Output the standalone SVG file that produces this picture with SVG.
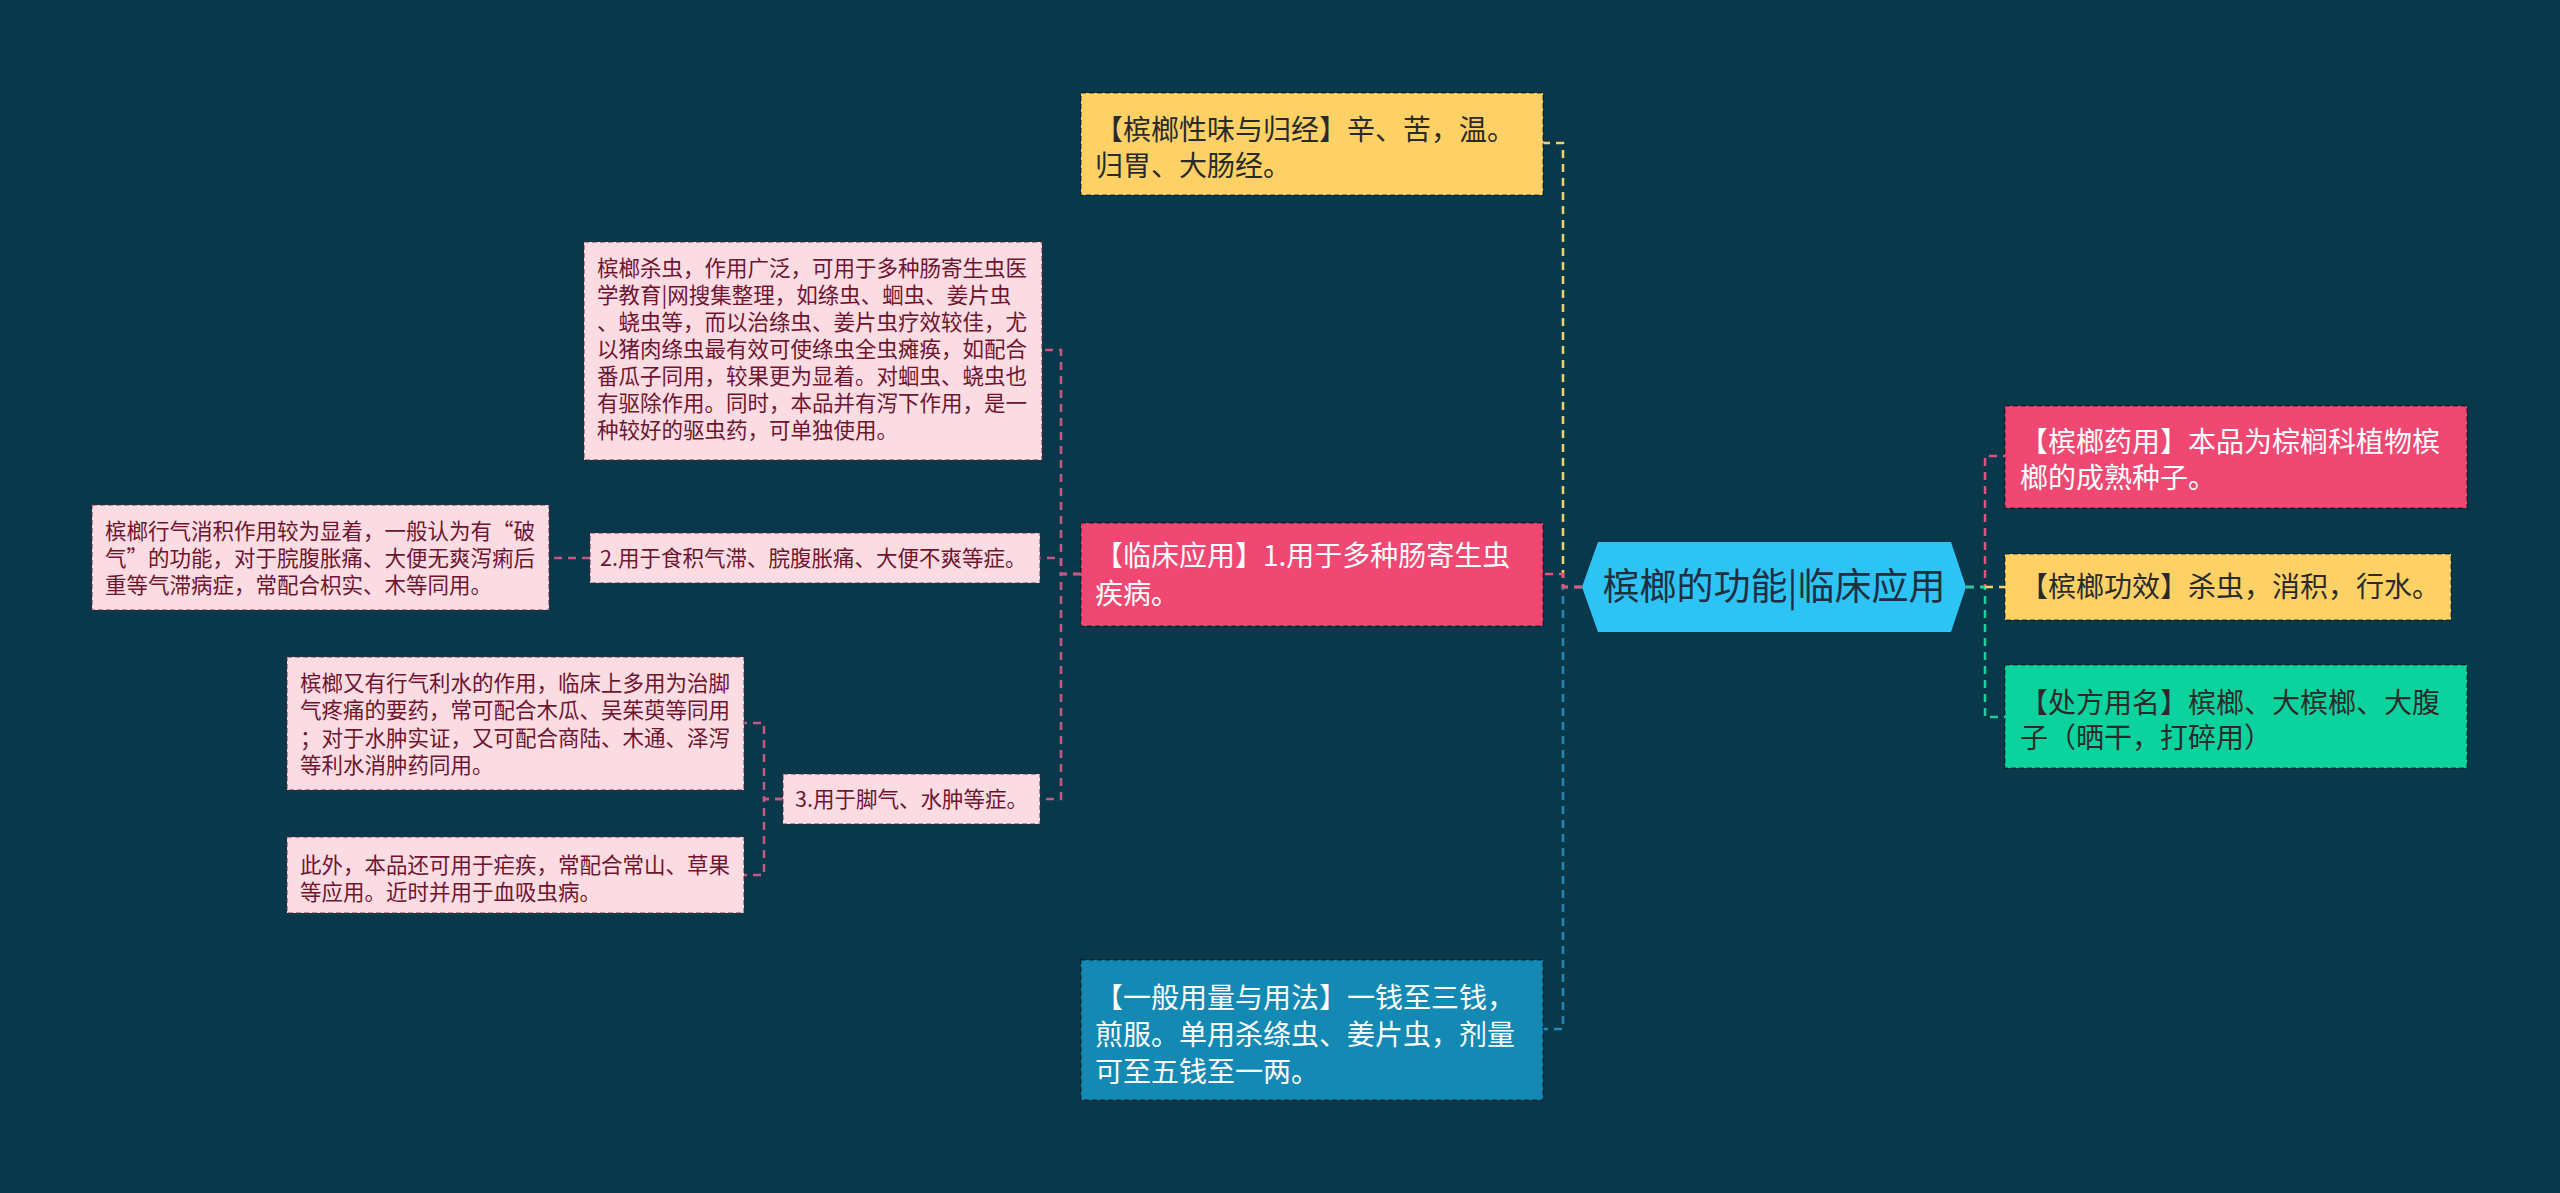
<svg xmlns="http://www.w3.org/2000/svg" width="2560" height="1193" viewBox="0 0 2560 1193">
<style>
text{font-family:"Noto Sans CJK SC","Noto Sans",sans-serif}
.conn{fill:none;stroke-width:2.5;stroke-dasharray:8 6}
.box{stroke:rgba(0,0,0,0.35);stroke-width:2;stroke-dasharray:5 3}
.lp{fill:#fbdce2;stroke:rgba(90,40,50,0.45)}
.t1{font-size:28px}
.t2{font-size:21.5px;fill:#6e1530}
.dark{fill:#2a2a2a}
.white{fill:#ffffff}
</style>
<rect x="0" y="0" width="2560" height="1193" fill="#0a384b"/>
<g id="connectors">
<path class="conn" stroke="#f2d16b" d="M1582,587 H1563 V143 H1543"/>
<path class="conn" stroke="#2286b8" d="M1582,587 H1563 V1029 H1543"/>
<path class="conn" stroke="#e2527c" d="M1582,587 H1563 V574 H1543"/>
<path class="conn" stroke="#e2527c" d="M1966,587 H1985 V456 H2005"/>
<path class="conn" stroke="#1ccf9d" d="M1966,587 H1985 V717 H2005"/>
<path class="conn" stroke="#f2d16b" d="M1985,587 H2005"/>
<path class="conn" stroke="#1ccf9d" d="M1966,587 H1985"/>
<path class="conn" stroke="#c45a82" d="M1081,574 H1061 V350 H1042"/>
<path class="conn" stroke="#c45a82" d="M1081,574 H1061 V558 H1040"/>
<path class="conn" stroke="#c45a82" d="M1081,574 H1061 V799 H1040"/>
<path class="conn" stroke="#c45a82" d="M590,558 H549"/>
<path class="conn" stroke="#c45a82" d="M783,799 H764 V723 H744"/>
<path class="conn" stroke="#c45a82" d="M783,799 H764 V875 H744"/>
</g>
<g id="root">
<polygon points="1582,587 1598,542 1951,542 1966,587 1951,632 1598,632" fill="#2dc4f5"/>
<text x="1774" y="600" text-anchor="middle" font-size="37" fill="#1e3040">槟榔的功能|临床应用</text>
</g>
<g id="n-yaoyong">
<rect class="box" x="2005" y="406" width="462" height="102" fill="#ef4873"/>
<text class="t1 white" x="2020" y="452">【槟榔药用】本品为棕榈科植物槟</text>
<text class="t1 white" x="2020" y="488">榔的成熟种子。</text>
</g>
<g id="n-gongxiao">
<rect class="box" x="2005" y="554" width="446" height="66" fill="#fed166"/>
<text class="t1 dark" x="2020" y="597">【槟榔功效】杀虫，消积，行水。</text>
</g>
<g id="n-chufang">
<rect class="box" x="2005" y="665" width="462" height="103" fill="#0cd29e"/>
<text class="t1 dark" x="2020" y="713">【处方用名】槟榔、大槟榔、大腹</text>
<text class="t1 dark" x="2020" y="748">子（晒干，打碎用）</text>
</g>
<g id="n-xingwei">
<rect class="box" x="1081" y="93" width="462" height="102" fill="#fed166"/>
<text class="t1 dark" x="1095" y="140">【槟榔性味与归经】辛、苦，温。</text>
<text class="t1 dark" x="1095" y="176">归胃、大肠经。</text>
</g>
<g id="n-linchuang">
<rect class="box" x="1081" y="523" width="462" height="103" fill="#ef4873"/>
<text class="t1 white" x="1095" y="566">【临床应用】1.用于多种肠寄生虫</text>
<text class="t1 white" x="1095" y="604">疾病。</text>
</g>
<g id="n-yongliang">
<rect class="box" x="1081" y="960" width="462" height="140" fill="#1489b4"/>
<text class="t1 white" x="1095" y="1008">【一般用量与用法】一钱至三钱，</text>
<text class="t1 white" x="1095" y="1045">煎服。单用杀绦虫、姜片虫，剂量</text>
<text class="t1 white" x="1095" y="1082">可至五钱至一两。</text>
</g>
<g id="n-shachong">
<rect class="box lp" x="584" y="242" width="458" height="218"/>
<text class="t2" x="597" y="276">槟榔杀虫，作用广泛，可用于多种肠寄生虫医</text>
<text class="t2" x="597" y="303">学教育|网搜集整理，如绦虫、蛔虫、姜片虫</text>
<text class="t2" x="597" y="330">、蛲虫等，而以治绦虫、姜片虫疗效较佳，尤</text>
<text class="t2" x="597" y="357">以猪肉绦虫最有效可使绦虫全虫瘫痪，如配合</text>
<text class="t2" x="597" y="384">番瓜子同用，较果更为显着。对蛔虫、蛲虫也</text>
<text class="t2" x="597" y="411">有驱除作用。同时，本品并有泻下作用，是一</text>
<text class="t2" x="597" y="438">种较好的驱虫药，可单独使用。</text>
</g>
<g id="n-shiji">
<rect class="box lp" x="590" y="533" width="450" height="50"/>
<text class="t2" x="600" y="566">2.用于食积气滞、脘腹胀痛、大便不爽等症。</text>
</g>
<g id="n-xingqi">
<rect class="box lp" x="92" y="505" width="457" height="105"/>
<text class="t2" x="105" y="539">槟榔行气消积作用较为显着，一般认为有“破</text>
<text class="t2" x="105" y="566">气”的功能，对于脘腹胀痛、大便无爽泻痢后</text>
<text class="t2" x="105" y="593">重等气滞病症，常配合枳实、木等同用。</text>
</g>
<g id="n-jiaoqi">
<rect class="box lp" x="783" y="774" width="257" height="50"/>
<text class="t2" x="795" y="807">3.用于脚气、水肿等症。</text>
</g>
<g id="n-lishui">
<rect class="box lp" x="287" y="657" width="457" height="133"/>
<text class="t2" x="300" y="691">槟榔又有行气利水的作用，临床上多用为治脚</text>
<text class="t2" x="300" y="718">气疼痛的要药，常可配合木瓜、吴茱萸等同用</text>
<text class="t2" x="300" y="746">；对于水肿实证，又可配合商陆、木通、泽泻</text>
<text class="t2" x="300" y="773">等利水消肿药同用。</text>
</g>
<g id="n-nueji">
<rect class="box lp" x="287" y="837" width="457" height="76"/>
<text class="t2" x="300" y="873">此外，本品还可用于疟疾，常配合常山、草果</text>
<text class="t2" x="300" y="900">等应用。近时并用于血吸虫病。</text>
</g>
</svg>
